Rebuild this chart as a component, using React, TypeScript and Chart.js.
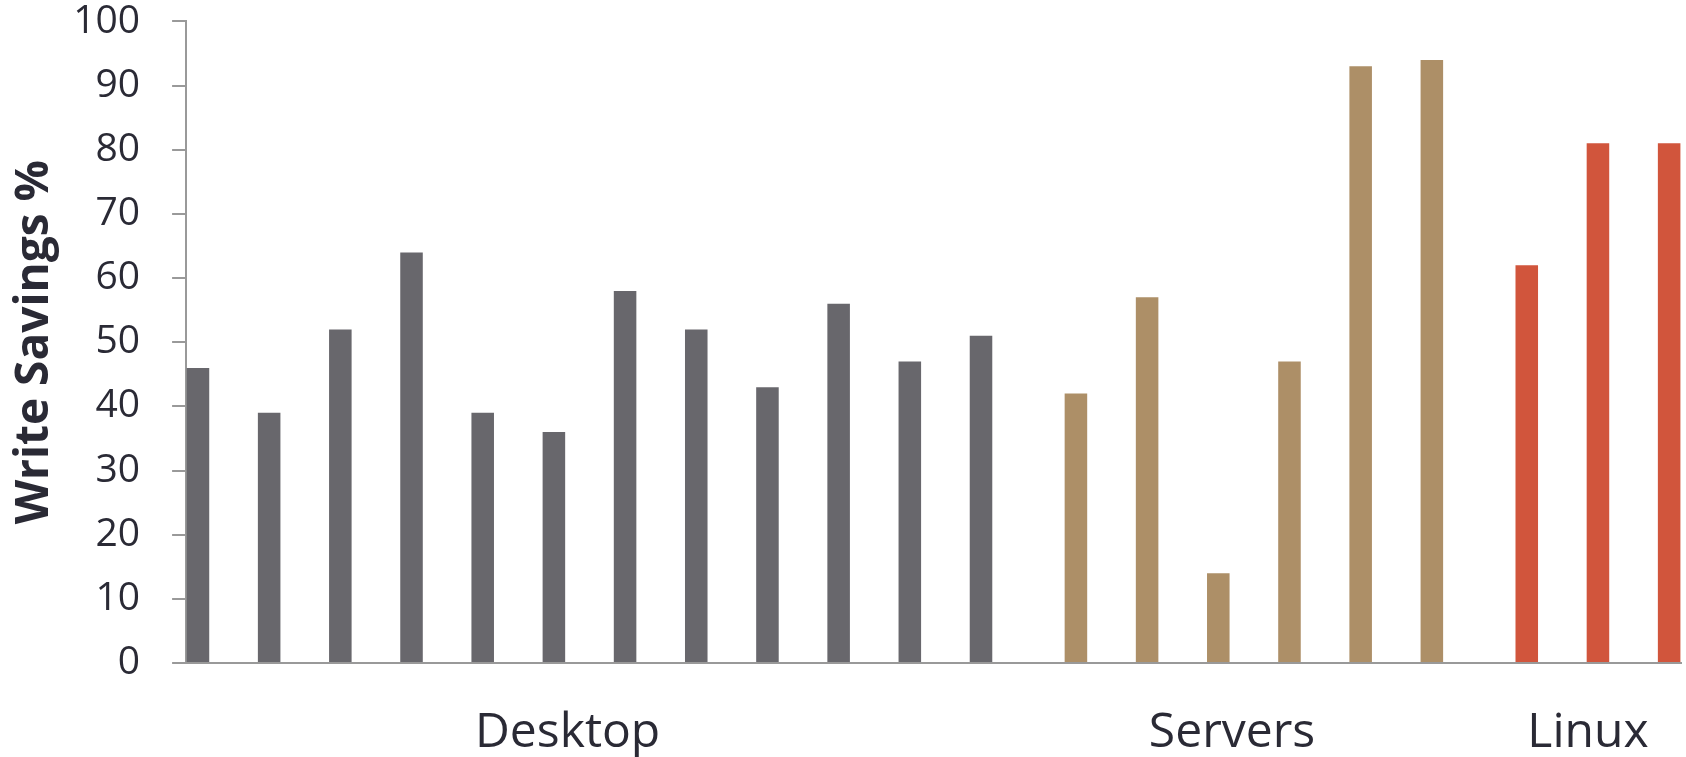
import React, { useEffect, useRef } from "react";
import { Chart, registerables } from "chart.js";

Chart.register(...registerables);

const groupNames = ["Desktop", "Servers", "Linux"];
const desktopValues = [46, 39, 52, 64, 39, 36, 58, 52, 43, 56, 47, 51];
const serverValues = [42, 57, 14, 47, 93, 94];
const linuxValues = [62, 81, 81];
const groupColors = ["#68676c", "#ad8f67", "#d1553c"];
const yTickValues = [0, 10, 20, 30, 40, 50, 60, 70, 80, 90, 100];
const yTitle = "Write Savings %";

// slots: each bar followed by 2 empty slots within a group, 3 between groups
function buildSlots() {
  const groups = [desktopValues, serverValues, linuxValues];
  const labels: string[] = [];
  const values: (number | null)[] = [];
  const colors: string[] = [];
  groups.forEach((vals, g) => {
    const start = labels.length;
    vals.forEach((v, i) => {
      labels.push("");
      values.push(v);
      colors.push(groupColors[g]);
      const gaps = i < vals.length - 1 ? 2 : g < groups.length - 1 ? 3 : 0;
      for (let k = 0; k < gaps; k++) {
        labels.push("");
        values.push(null);
        colors.push(groupColors[g]);
      }
    });
    const mid = Math.floor(start + ((vals.length - 1) * 3) / 2);
    labels[mid] = groupNames[g];
  });
  return { labels, values, colors };
}

export default function App() {
  const ref = useRef<HTMLCanvasElement | null>(null);
  useEffect(() => {
    if (!ref.current) return;
    const { labels, values, colors } = buildSlots();
    const textColor = "#2a2a35";
    const axisColor = "#999999";
    const chart = new Chart(ref.current, {
      type: "bar",
      data: {
        labels,
        datasets: [
          {
            data: values,
            backgroundColor: colors,
            categoryPercentage: 1,
            barPercentage: 0.95,
          },
        ],
      },
      options: {
        animation: false,
        responsive: true,
        maintainAspectRatio: false,
        layout: { padding: { left: 0, right: 5, top: 0, bottom: 0 } },
        plugins: {
          legend: { display: false },
          tooltip: { enabled: false },
        },
        scales: {
          x: {
            type: "category",
            offset: true,
            grid: {
              display: true,
              drawOnChartArea: false,
              drawTicks: true,
              tickLength: 46,
              tickColor: "rgba(0,0,0,0)",
            },
            border: { display: true, color: axisColor, width: 2 },
            ticks: {
              autoSkip: false,
              maxRotation: 0,
              minRotation: 0,
              padding: 0,
              labelOffset: -10,
              color: textColor,
              font: { family: "'Open Sans'", size: 48, lineHeight: 1 },
            },
          },
          y: {
            min: 0,
            max: 100,
            afterBuildTicks: (axis: any) => {
              axis.ticks = yTickValues.map((v) => ({ value: v }));
            },
            grid: {
              drawOnChartArea: false,
              drawTicks: true,
              tickLength: 46,
              tickBorderDash: [0, 32, 14, 0],
              color: axisColor,
              lineWidth: 2,
            },
            border: { display: true, color: axisColor, width: 2 },
            ticks: {
              padding: 0,
              color: textColor,
              font: { family: "'Open Sans'", size: 39, lineHeight: 1.1 },
            },
            title: {
              display: true,
              text: yTitle,
              color: textColor,
              font: { family: "'Open Sans'", size: 46, weight: "bold", lineHeight: 1.2 },
              padding: { top: 7, bottom: 11 },
            },
          },
        },
      },
    });
    return () => chart.destroy();
  }, []);
  return (
    <div
      style={{
        position: "fixed",
        left: 0,
        top: 0,
        width: 1686,
        height: 757,
        background: "#ffffff",
      }}
    >
      <canvas ref={ref} />
    </div>
  );
}
